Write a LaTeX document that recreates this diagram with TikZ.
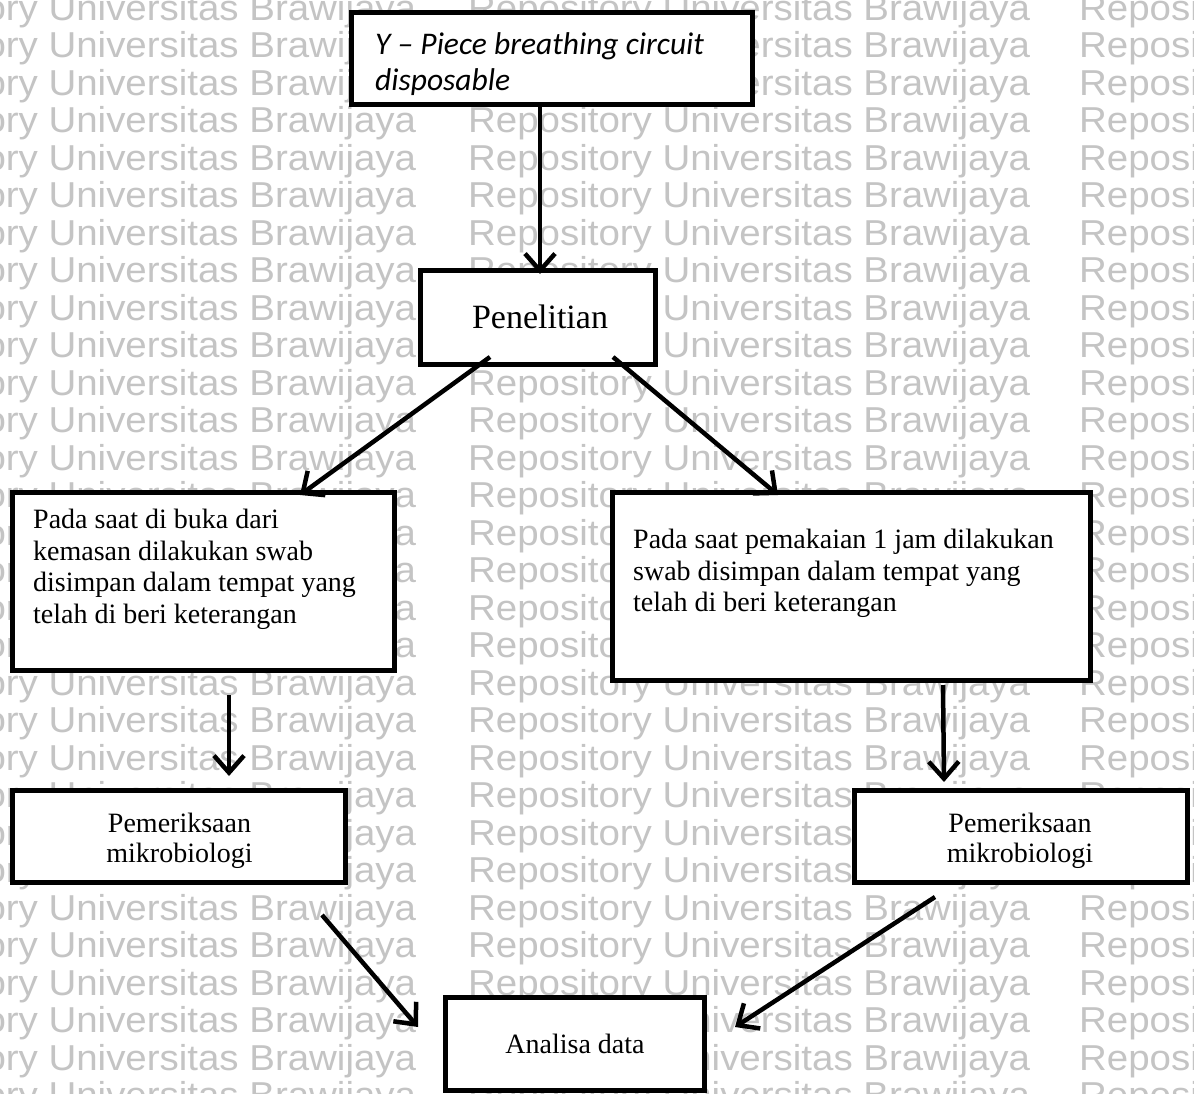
\documentclass[tikz,border=0pt]{standalone}
\usepackage{fontspec}
\setmainfont{Liberation Serif}
\newfontfamily\wmfont{Liberation Sans}
\newfontfamily\calfont{Carlito}
\usetikzlibrary{arrows.meta,calc}
\tikzset{
  box/.style={draw=black, line width=5pt, fill=white, rectangle, inner sep=0pt},
  conn/.style={line width=4.5pt, -{Straight Barb[length=17pt,width=30pt]}},
  wm/.style={text=black!23, font=\wmfont\fontsize{36}{36}\selectfont, anchor=base west, inner sep=0pt},
  bodytxt/.style={font=\fontsize{28}{31.5}\selectfont, inner sep=0pt, align=left, anchor=north west},
  ctrtxt/.style={font=\fontsize{28}{30}\selectfont, inner sep=0pt, align=center},
}
\begin{document}
\begin{tikzpicture}[x=1pt,y=-1pt]
\useasboundingbox (0,0) rectangle (1194,1093);
\fill[white] (0,0) rectangle (1194,1093);
% watermark
\begin{scope}
\clip (0,0) rectangle (1194,1093);
\foreach \k in {0,...,29} {
  \foreach \c/\xx in {0/-146,1/468,2/1079} {
    \node[wm] (wm-\k-\c) at (\xx, {20+37.5*\k}) {\scalebox{1.068}[1]{Repository Universitas Brawijaya}};
  }
}
\end{scope}
% boxes
\node[box, minimum width=401pt, minimum height=92pt] (top) at (552,58.5) {};
\node[box, minimum width=235pt, minimum height=94pt] (pen) at (538,317.5) {};
\node[box, minimum width=382pt, minimum height=178pt] (left) at (203.5,581.5) {};
\node[box, minimum width=478pt, minimum height=188pt] (right) at (851.5,586.5) {};
\node[box, minimum width=333pt, minimum height=92pt] (pemL) at (179,836.5) {};
\node[box, minimum width=333pt, minimum height=92pt] (pemR) at (1021,836.5) {};
\node[box, minimum width=259pt, minimum height=93pt] (ana) at (575,1044) {};
% texts
\node[inner sep=0pt, align=left, anchor=north west, font=\calfont\itshape\fontsize{31.5}{36}\selectfont] (top-t) at (375,32) {Y – Piece breathing circuit\\disposable};
\node[inner sep=0pt, anchor=base, font=\fontsize{34}{40}\selectfont] (pen-t) at (540,328) {Penelitian};
\node[bodytxt] (left-t) at (33,509) {Pada saat di buka dari\\kemasan dilakukan swab\\disimpan dalam tempat yang\\telah di beri keterangan};
\node[bodytxt] (right-t) at (633,529) {Pada saat pemakaian 1 jam dilakukan\\swab disimpan dalam tempat yang\\telah di beri keterangan};
\node[ctrtxt, anchor=north] (pemL-t) at (179.5,813) {Pemeriksaan\\mikrobiologi};
\node[ctrtxt, anchor=north] (pemR-t) at (1020,813) {Pemeriksaan\\mikrobiologi};
\node[inner sep=0pt, anchor=base, font=\fontsize{28}{30}\selectfont] (ana-t) at (575,1053) {Analisa data};
% connectors
\draw[conn] ($(top.south)+(-12,0)$) -- ($(pen.north)+(2,6)$);
\draw[conn] ($(pen.south)+(-48,-10)$) -- ($(left.north)+(96.5,5)$);
\draw[conn] ($(pen.south)+(75,-10)$) -- ($(right.north)+(-73.5,5)$);
\draw[conn] ($(left.south)+(25.5,22)$) -- ($(left.south |- pemL.north)+(25.5,-12)$);
\draw[conn] ($(right.south)+(91.5,2)$) -- ($(pemR.north)+(-77,-6)$);
\draw[conn] ($(pemL.south)+(143,30)$) -- ($(ana.west)+(-25,-17)$);
\draw[conn] ($(pemR.south)+(-86,12)$) -- ($(ana.east)+(28,-17)$);
\end{tikzpicture}
\end{document}
